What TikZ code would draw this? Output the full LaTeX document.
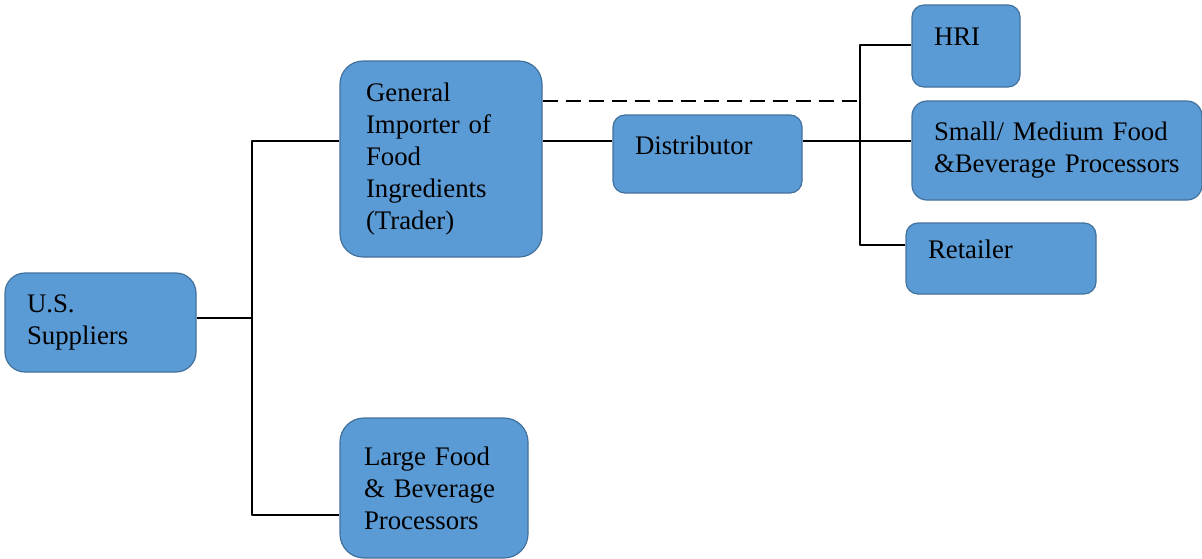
\documentclass[tikz,border=0pt]{standalone}
\usepackage{fontspec}
\setmainfont{Liberation Serif}
\usepackage{xcolor}
\usetikzlibrary{calc}
\definecolor{boxblue}{HTML}{5B9BD5}
\definecolor{boxedge}{HTML}{41719C}
\tikzset{
    every picture/.style={line join=round},
    chainbox/.style={draw=boxedge,fill=boxblue,line width=0.6pt,rounded corners=6pt,
      inner xsep=11pt,inner ysep=0pt,align=left,
      font=\rmfamily\fontsize{13.4}{16}\selectfont},
    lifted/.style={text depth=9pt},
    link/.style={draw=black,line width=1.4pt},
    weaklink/.style={link,dash pattern=on 7.5pt off 4pt}
}
\begin{document}
\begin{tikzpicture}[x=0.5pt,y=-0.5pt]
  \useasboundingbox (0,0) rectangle (1202,558);
  % boxes, centres in pixel units
  \node[chainbox,rounded corners=10pt,minimum width=95.5pt,minimum height=49.5pt,text width=73.5pt]
    (sup) at (100.5,322.5) {U.S.\\Suppliers};
  \node[chainbox,rounded corners=11.5pt,inner xsep=13pt,minimum width=101pt,minimum height=98pt,text width=75pt]
    (gen) at (441,159) {General\\Importer of\\Food\\Ingredients\\(Trader)};
  \node[chainbox,rounded corners=12pt,inner xsep=12pt,minimum width=94pt,minimum height=70pt,text width=70pt]
    (large) at (434,488) {Large Food\\\& Beverage\\Processors};
  \node[chainbox,lifted,minimum width=94.5pt,minimum height=39pt,text width=72.5pt]
    (dist) at (707.5,154) {Distributor};
  \node[chainbox,lifted,minimum width=54pt,minimum height=41pt,text width=32pt]
    (hri) at (966,46) {HRI};
  \node[chainbox,rounded corners=7.5pt,minimum width=145pt,minimum height=49.5pt,text width=123pt]
    (smb) at (1057,150.5) {Small/ Medium Food\\\&Beverage~Processors};
  \node[chainbox,lifted,minimum width=95pt,minimum height=35.5pt,text width=73pt]
    (ret) at (1001,258.5) {Retailer};
  % junction points
  \coordinate (sj) at (252,318);
  \coordinate (tr) at (252,141);
  \coordinate (tb) at (252,515);
  \coordinate (rt) at (860,45);
  \coordinate (rb) at (860,245);
  \coordinate (dj) at (860,101);
  % connectors
  \draw[link] (sj -| sup.east) -- (sj);
  \draw[link] (tr -| gen.west) -- (tr) -- (tb) -- (tb -| large.west);
  \draw[link] (tr -| gen.east) -- (tr -| dist.west);
  \draw[link] (tr -| dist.east) -- (tr -| smb.west);
  \draw[link] (rt -| hri.west) -- (rt) -- (rb) -- (rb -| ret.west);
  \draw[weaklink] (dj -| gen.east) -- (dj);
\end{tikzpicture}
\end{document}
